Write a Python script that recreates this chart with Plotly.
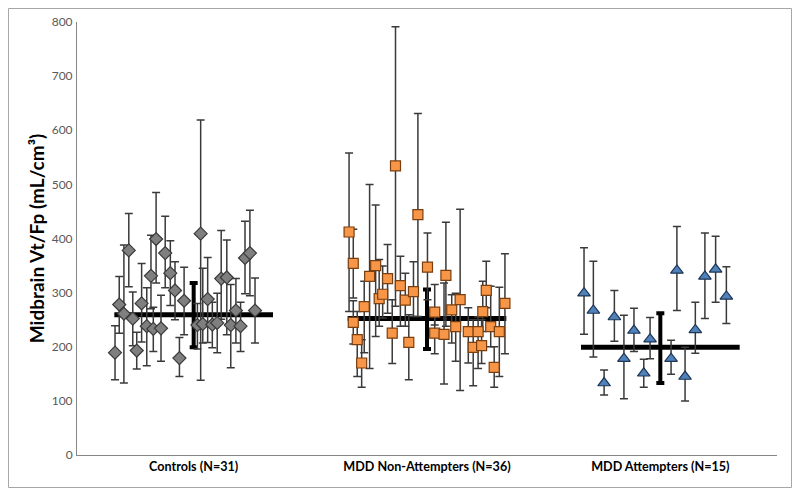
"""Midbrain Vt/Fp by group: individual subjects with error bars, group mean and SD."""

import plotly.graph_objects as go

# group labels on the x axis
groups = ["Controls (N=31)", "MDD Non-Attempters (N=36)", "MDD Attempters (N=15)"]

# Controls: x position within the category (category units), value, upper and lower bar ends
ctrl_x = [0.163, 0.181, 0.201, 0.222, 0.239, 0.256, 0.277, 0.299, 0.317, 0.327, 0.339,
          0.360, 0.378, 0.400, 0.420, 0.439, 0.459, 0.516, 0.530, 0.539, 0.560, 0.580,
          0.601, 0.618, 0.642, 0.659, 0.681, 0.701, 0.720, 0.741, 0.763]
ctrl_val = [189, 278, 261, 378, 252, 193, 280, 238, 331, 233, 399, 234, 373, 336, 304, 179,
            285, 240, 409, 242, 288, 241, 244, 326, 328, 240, 267, 238, 364, 373, 267]
ctrl_hi = [239, 330, 388, 446, 301, 227, 354, 309, 406, 273, 485, 295, 441, 396, 357, 217,
           347, 280, 619, 345, 365, 282, 299, 415, 397, 315, 326, 282, 432, 452, 327]
ctrl_lo = [139, 225, 133, 311, 202, 159, 209, 165, 270, 191, 318, 173, 309, 276, 250, 145,
           222, 196, 138, 207, 208, 198, 189, 251, 222, 161, 207, 191, 298, 294, 207]

# MDD non-attempters
non_x = [1.166, 1.184, 1.184, 1.201, 1.220, 1.231, 1.254, 1.280, 1.295, 1.310, 1.331, 1.351,
         1.365, 1.386, 1.407, 1.422, 1.442, 1.461, 1.502, 1.533, 1.533, 1.573, 1.581, 1.606,
         1.623, 1.642, 1.677, 1.698, 1.719, 1.734, 1.739, 1.754, 1.773, 1.788, 1.810, 1.834]
non_val = [412, 354, 245, 213, 170, 274, 330, 350, 289, 297, 326, 225, 534, 313, 286, 208,
           302, 444, 347, 264, 225, 223, 332, 268, 237, 287, 228, 199, 228, 202, 265, 304,
           237, 162, 228, 280]
non_hi = [558, 417, 285, 265, 213, 321, 500, 462, 361, 349, 389, 287, 791, 367, 336, 259,
          357, 631, 410, 315, 262, 318, 430, 296, 299, 454, 272, 250, 255, 250, 321, 358,
          312, 200, 310, 372]
non_lo = [265, 290, 205, 145, 125, 189, 160, 219, 238, 253, 262, 169, 275, 238, 238, 139,
          256, 256, 287, 240, 187, 131, 238, 207, 173, 119, 170, 128, 160, 169, 228, 272,
          200, 125, 145, 187]

# MDD attempters
att_x = [2.173, 2.213, 2.259, 2.303, 2.344, 2.387, 2.429, 2.456, 2.546, 2.571, 2.606,
         2.650, 2.691, 2.737, 2.783]
att_val = [299, 267, 133, 255, 178, 230, 151, 214, 178, 341, 145, 231, 330, 343, 293]
att_hi = [383, 358, 157, 304, 258, 271, 177, 254, 212, 422, 199, 282, 410, 404, 348]
att_lo = [223, 181, 111, 210, 104, 191, 125, 178, 149, 267, 100, 188, 252, 282, 243]

# group mean and SD bar ends
mean_val = [259, 252, 199]
mean_hi = [318, 306, 262]
mean_lo = [199, 196, 133]

centers = [0.5, 1.5, 2.5]
half_w = 0.34

fig = go.Figure()

# mean lines
for c, m in zip(centers, mean_val):
    fig.add_trace(go.Scatter(
        x=[c - half_w, c + half_w], y=[m, m], mode="lines",
        line=dict(color="black", width=5), hoverinfo="skip",
    ))

# SD bars around the mean
fig.add_trace(go.Scatter(
    x=centers, y=mean_val, mode="markers",
    marker=dict(size=1, color="black", opacity=0),
    error_y=dict(
        type="data", symmetric=False,
        array=[h - v for h, v in zip(mean_hi, mean_val)],
        arrayminus=[v - l for v, l in zip(mean_val, mean_lo)],
        color="black", thickness=4, width=4,
    ),
))

series = [
    (ctrl_x, ctrl_val, ctrl_hi, ctrl_lo, "diamond", 10, "#7f7f7f", "#3a3a3a"),
    (non_x, non_val, non_hi, non_lo, "square", 10, "#F79646", "#7a3f10"),
    (att_x, att_val, att_hi, att_lo, "triangle-up", 11, "#4F81BD", "#1f3552"),
]
for xs, vals, hi, lo, sym, size, fill, edge in series:
    fig.add_trace(go.Scatter(
        x=xs, y=vals, mode="markers",
        marker=dict(symbol=sym, size=size, color=fill, line=dict(color=edge, width=1.2)),
        error_y=dict(
            type="data", symmetric=False,
            array=[h - v for h, v in zip(hi, vals)],
            arrayminus=[v - l for v, l in zip(vals, lo)],
            color="#3a3a3a", thickness=1.5, width=4,
        ),
    ))

# chart border
fig.add_shape(
    type="rect", xref="paper", yref="paper",
    x0=-0.0979, x1=1.0207, y0=-0.0751, y1=1.0312,
    line=dict(color="#a6a6a6", width=1), layer="below",
)

# page body has an 8px margin, so the figure is sized to fit inside the window
fig.update_layout(
    width=784, height=480,
    margin=dict(l=69, r=15, t=14, b=33, autoexpand=False),
    paper_bgcolor="white", plot_bgcolor="white",
    showlegend=False,
    font=dict(family="Lato, Open Sans, sans-serif", color="#595959"),
    xaxis=dict(
        range=[0, 3], tickvals=centers, automargin=False,
        ticktext=["<b>" + g + "</b>" for g in groups],
        tickfont=dict(size=12.6, color="black"),
        showgrid=False, zeroline=False, showline=True, linecolor="#868686", linewidth=1,
        ticks="",
    ),
    yaxis=dict(
        range=[0, 800], dtick=100, automargin=False,
        tickfont=dict(size=12, color="#595959"),
        showgrid=False, zeroline=False, showline=True, linecolor="#868686", linewidth=1,
        ticks="", ticklabelstandoff=1,
        title=dict(text="<b>Midbrain Vt/Fp (mL/cm³)</b>", font=dict(size=19, color="black"),
                   standoff=2),
    ),
)

fig.write_html("out.html")
